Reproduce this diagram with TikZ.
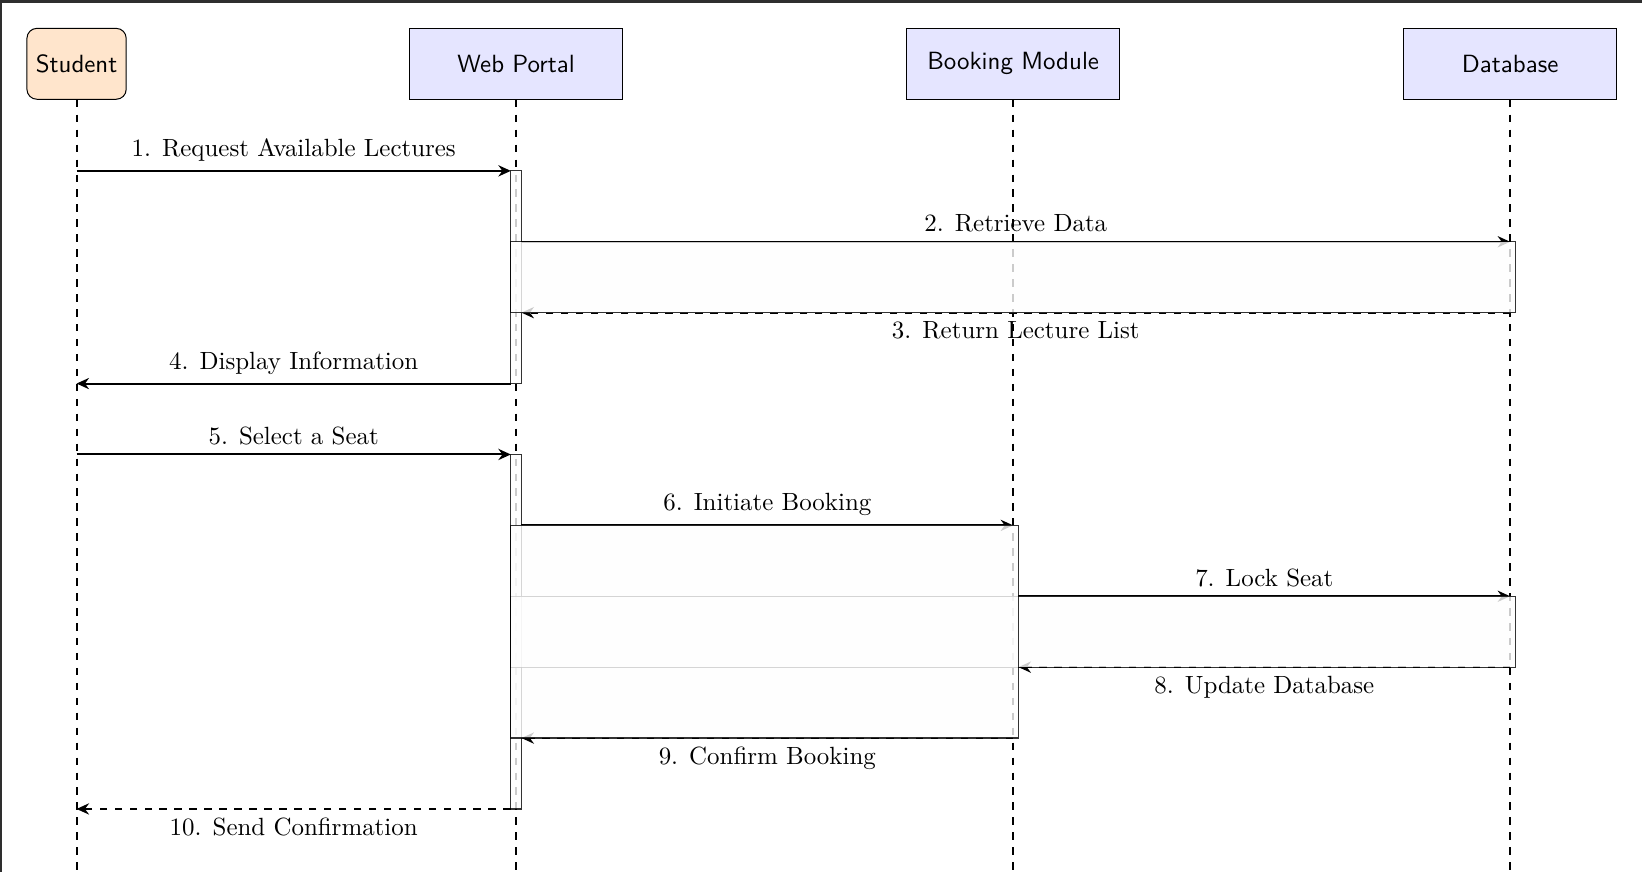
\documentclass[tikz,border=0pt]{standalone}
\usetikzlibrary{arrows.meta}
\begin{document}
\begin{tikzpicture}[y=-1cm,
  hdr/.style={draw, fill=blue!10, minimum width=3cm, minimum height=1cm, font=\sffamily},
  actorbox/.style={draw, fill=orange!20, rounded corners=4pt, minimum width=1.4cm, minimum height=1cm, font=\sffamily},
  life/.style={dashed, line width=0.8pt},
  msg/.style={line width=0.8pt, -{Stealth[length=5pt,width=4.5pt]}},
  ret/.style={msg, dashed},
  actbox/.style={draw=black, fill=white!99.5!black, line width=0.45pt, opacity=0.8},
  lab/.style={font=\normalsize}
]
\useasboundingbox (0,0) rectangle (23.16,12.30);
\fill[black!82] (0,0) rectangle (23.16,0.042);
\fill[black!82] (0,0) rectangle (0.035,12.30);

% header nodes
\node[actorbox] (s) at (1.08,0.9) {Student};
\node[hdr] (w) at (7.28,0.9) {Web Portal};
\node[hdr] (b) at (14.29,0.9) {Booking Module};
\node[hdr] (d) at (21.30,0.9) {Database};

% lifeline ends
\coordinate (se) at (1.08,12.30);
\coordinate (we) at (7.28,12.30);
\coordinate (be) at (14.29,12.30);
\coordinate (de) at (21.30,12.30);
\draw[life] (s) -- (se);
\draw[life] (w) -- (we);
\draw[life] (b) -- (be);
\draw[life] (d) -- (de);

% message end points
\coordinate (s1) at (1.08,2.41);  \coordinate (wl1) at (7.205,2.41);
\coordinate (wr2) at (7.355,3.41); \coordinate (d2) at (21.30,3.41);
\coordinate (d3) at (21.30,4.41); \coordinate (wr3) at (7.355,4.41);
\coordinate (wl4) at (7.205,5.41); \coordinate (s4) at (1.08,5.41);
\coordinate (s5) at (1.08,6.41);  \coordinate (wl5) at (7.205,6.41);
\coordinate (wr6) at (7.355,7.41); \coordinate (b6) at (14.29,7.41);
\coordinate (br7) at (14.365,8.41); \coordinate (d7) at (21.30,8.41);
\coordinate (d8) at (21.30,9.41); \coordinate (br8) at (14.365,9.41);
\coordinate (b9) at (14.29,10.41); \coordinate (wr9) at (7.355,10.41);
\coordinate (wl10) at (7.205,11.41); \coordinate (s10) at (1.08,11.41);

% messages
\draw[msg] (s1) -- node[above, lab] {1. Request Available Lectures} (wl1);
\draw[msg] (wr2) -- node[above, lab] {2. Retrieve Data} (d2);
\draw[ret] (d3) -- node[below, lab] {3. Return Lecture List} (wr3);
\draw[msg] (wl4) -- node[above, lab] {4. Display Information} (s4);
\draw[msg] (s5) -- node[above, lab] {5. Select a Seat} (wl5);
\draw[msg] (wr6) -- node[above, lab] {6. Initiate Booking} (b6);
\draw[msg] (br7) -- node[above, lab] {7. Lock Seat} (d7);
\draw[ret] (d8) -- node[below, lab] {8. Update Database} (br8);
\draw[ret] (b9) -- node[below, lab] {9. Confirm Booking} (wr9);
\draw[ret] (wl10) -- node[below, lab] {10. Send Confirmation} (s10);

% activation boxes
\draw[actbox] (7.205,2.41) rectangle (7.355,5.41);
\draw[actbox] (7.205,3.41) rectangle (21.375,4.41);
\draw[actbox] (7.205,6.41) rectangle (7.355,11.41);
\draw[actbox] (7.205,8.41) rectangle (21.375,9.41);
\draw[actbox] (7.205,7.41) rectangle (14.365,10.41);
\end{tikzpicture}
\end{document}
